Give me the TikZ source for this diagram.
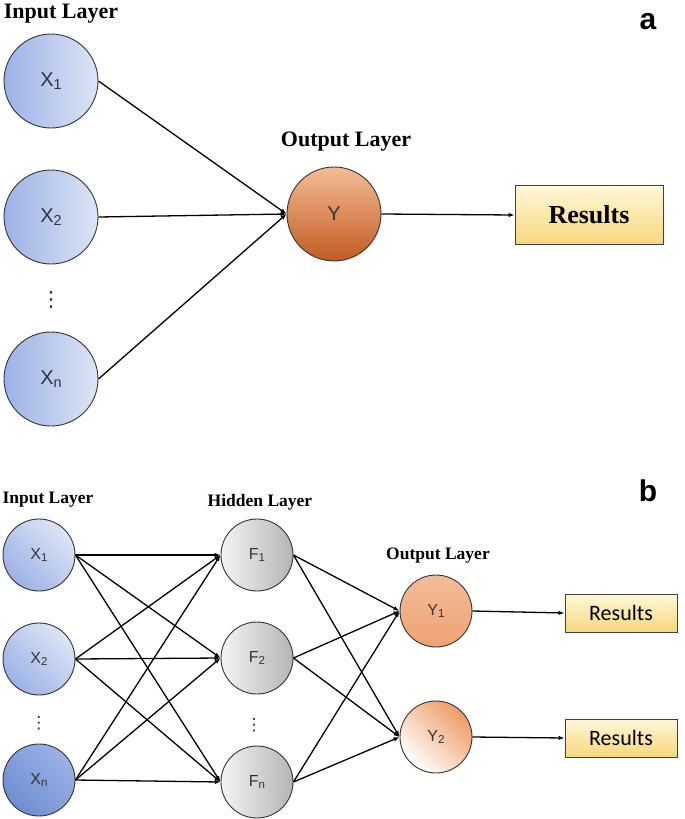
\documentclass[tikz,border=0pt]{standalone}
\usepackage{fontspec}
\setmainfont{Liberation Serif}
\newfontfamily\lblfont{Liberation Sans}
\newfontfamily\boxfont{Carlito}
\newfontfamily\symfont{DejaVu Sans}
\usetikzlibrary{
    arrows.meta,
    positioning
}
\definecolor{blueL}{HTML}{DDE5F6}
\definecolor{blueD}{HTML}{9CB2E6}
\definecolor{blueN}{HTML}{6E8ED2}
\definecolor{orgL}{HTML}{F3BC96}
\definecolor{orgM}{HTML}{EC8A4A}
\definecolor{orgD}{HTML}{C25B22}
\definecolor{orgB}{HTML}{EFA274}
\definecolor{greyL}{HTML}{F4F4F4}
\definecolor{greyD}{HTML}{B4B4B4}
\definecolor{yelL}{HTML}{FFF8DA}
\definecolor{yelD}{HTML}{F8D67C}
\newcommand{\ix}[2]{#1\raisebox{-0.12em}{\scalebox{0.72}{#2}}}

\begin{document}
\begin{tikzpicture}[x=1pt, y=-1pt, >={Latex[length=6pt, width=4.5pt]}, line width=1.3pt,
    titlea/.style={font=\bfseries\fontsize{22}{24}\selectfont},
    titleb/.style={font=\bfseries\fontsize{17.5}{20}\selectfont},
    panel/.style={font=\lblfont\bfseries\fontsize{30}{30}\selectfont},
    unit/.style={circle, draw=black!80, line width=0.9pt, text=black!80, inner sep=0pt},
    bigunit/.style={unit, minimum size=94pt, font=\lblfont\fontsize{20}{22}\selectfont},
    smallunit/.style={unit, minimum size=72pt, font=\lblfont\fontsize{16}{18}\selectfont},
    dots/.style={font=\symfont\fontsize{#1}{#1}\selectfont, text=black!80, inner sep=0pt},
    inshade/.style={left color=blueD, right color=blueL},
    inbshade/.style={top color=blueL, bottom color=blueD, shading angle=-45},
    hidshade/.style={left color=greyL, right color=greyD},
    outshade/.style={top color=orgL, middle color=orgM, bottom color=orgD},
    resa/.style={draw=black!75, line width=0.9pt, top color=yelL, bottom color=yelD,
        minimum width=148pt, minimum height=59pt, font=\bfseries\fontsize{26}{28}\selectfont},
    resb/.style={draw=black!75, line width=0.9pt, top color=yelL, bottom color=yelD,
        minimum width=112pt, minimum height=38pt, font=\boxfont\fontsize{22}{24}\selectfont}]
    \useasboundingbox (0, 0) rectangle (685, 819);
    % a
    \node[titlea] (ta) at (61, 14) {Input Layer};
    \node[bigunit, inshade] (xa1) at (51, 81) {\ix{X}{1}};
    \node[bigunit, inshade] (xa2) at (51, 217) {\ix{X}{2}};
    \node[dots=21] (dta) at (51, 300) {⋮};
    \node[bigunit, inshade] (xan) at (51, 379) {\ix{X}{n}};
    \node[titlea] (toa) at (346, 142) {Output Layer};
    \node[bigunit, outshade] (ya) at (334, 214) {Y};
    \node[resa] (rsa) at (589, 215) {Results};
    \node[panel] (pa) at (648, 22) {a};
    \draw
    (xa1.east) edge[->] (ya.west)
    (xa2.east) edge[->] (ya.west)
    (xan.east) edge[->] (ya.west)
    (ya.east) edge[->] (rsa.west);
    % b
    \node[titleb] (tib) at (48, 500) {Input Layer};
    \node[titleb] (thb) at (260, 502) {Hidden Layer};
    \node[titleb] (tob) at (438, 556) {Output Layer};
    \node[panel] (pb) at (648, 491) {b};
    \node[smallunit, inbshade] (xb1) at (39, 555) {\ix{X}{1}};
    \node[smallunit, inbshade] (xb2) at (39, 659) {\ix{X}{2}};
    \node[dots=17] (dtb) at (39, 723) {⋮};
    \node[smallunit, top color=blueD, bottom color=blueN, shading angle=-45] (xbn) at (39, 780) {\ix{X}{n}};
    \node[smallunit, hidshade] (fb1) at (257, 555) {\ix{F}{1}};
    \node[smallunit, hidshade] (fb2) at (257, 658) {\ix{F}{2}};
    \node[dots=17] (dth) at (254, 725) {⋮};
    \node[smallunit, hidshade] (fbn) at (257, 782) {\ix{F}{n}};
    \node[smallunit, top color=orgL, bottom color=orgB] (yb1) at (436, 611) {\ix{Y}{1}};
    \node[smallunit, top color=orgM!85, bottom color=white, shading angle=-45] (yb2) at (436, 737) {\ix{Y}{2}};
    \node[resb] (rsb1) at (621, 613) {Results};
    \node[resb] (rsb2) at (621, 738) {Results};
    \draw
    (xb1.east) edge[->] (fb1.west)
    (xb1.east) edge[->] (fb2.west)
    (xb1.east) edge[->] (fbn.west)
    (xb2.east) edge[->] (fb1.west)
    (xb2.east) edge[->] (fb2.west)
    (xb2.east) edge[->] (fbn.west)
    (xbn.east) edge[->] (fb1.west)
    (xbn.east) edge[->] (fb2.west)
    (xbn.east) edge[->] (fbn.west)
    (fb1.east) edge[->] (yb1.west)
    (fb1.east) edge[->] (yb2.west)
    (fb2.east) edge[->] (yb1.west)
    (fb2.east) edge[->] (yb2.west)
    (fbn.east) edge[->] (yb1.west)
    (fbn.east) edge[->] (yb2.west)
    (yb1.east) edge[->] (rsb1.west)
    (yb2.east) edge[->] (rsb2.west);
\end{tikzpicture}
\end{document}
